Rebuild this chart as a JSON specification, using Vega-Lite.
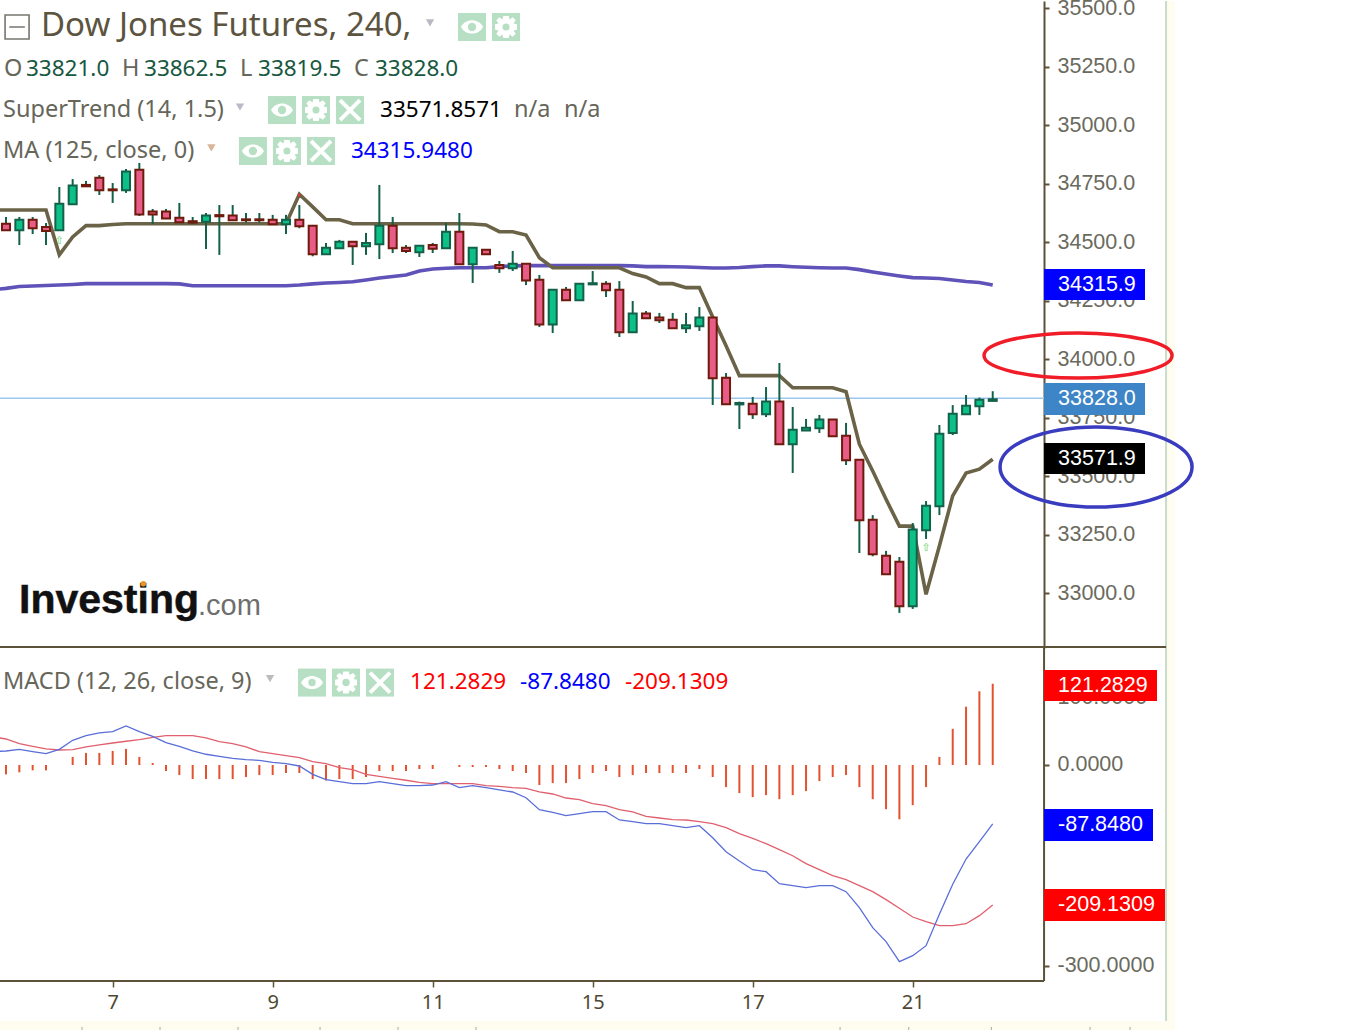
{
  "$schema": "https://vega.github.io/schema/vega-lite/v6.json",
  "padding": {"left": -1, "top": -3, "right": 0, "bottom": 0},
  "background": "white",
  "bounds": "flush",
  "spacing": 0,
  "datasets": {
    "bars": [
      {"bar":-1,"st":34637,"ma":34296,"macd":20,"signal":42},
      {"bar":0,"o":34578,"h":34607,"l":34547,"c":34550,"dir":"down","st":34637,"ma":34302,"macd":20.9,"signal":38.8,"hist":-14},
      {"bar":1,"o":34550,"h":34607,"l":34487,"c":34595,"dir":"up","st":34637,"ma":34310,"macd":23.4,"signal":31.8,"hist":-11},
      {"bar":2,"o":34595,"h":34607,"l":34534,"c":34559,"dir":"down","st":34637,"ma":34312,"macd":20,"signal":27.9,"hist":-8},
      {"bar":3,"o":34564,"h":34581,"l":34487,"c":34547,"dir":"down","st":34637,"ma":34314,"macd":16.9,"signal":23.9,"hist":-8},
      {"bar":4,"o":34550,"h":34735,"l":34550,"c":34664,"dir":"up","st":34445,"ma":34316,"macd":23.4,"signal":22.4,"hist":0},
      {"bar":5,"o":34661,"h":34769,"l":34661,"c":34741,"dir":"up","st":34521.5,"ma":34318.5,"macd":36.9,"signal":22.8,"hist":12},
      {"bar":6,"o":34744,"h":34761,"l":34738,"c":34738,"dir":"down","st":34570,"ma":34322,"macd":43.7,"signal":26.9,"hist":18},
      {"bar":7,"o":34775,"h":34786,"l":34701,"c":34721,"dir":"down","st":34570,"ma":34322,"macd":47.8,"signal":29.9,"hist":18},
      {"bar":8,"o":34725,"h":34752,"l":34667,"c":34721,"dir":"down","st":34575,"ma":34322,"macd":49.7,"signal":32.8,"hist":21},
      {"bar":9,"o":34721,"h":34812,"l":34710,"c":34801,"dir":"up","st":34578,"ma":34322,"macd":58.2,"signal":35.4,"hist":24},
      {"bar":10,"o":34809,"h":34838,"l":34611,"c":34618,"dir":"down","st":34578,"ma":34322,"macd":49.7,"signal":37.8,"hist":12},
      {"bar":11,"o":34630,"h":34641,"l":34577,"c":34618,"dir":"down","st":34578,"ma":34322,"macd":42.8,"signal":41.3,"hist":3},
      {"bar":12,"o":34630,"h":34641,"l":34600,"c":34601,"dir":"down","st":34578,"ma":34322,"macd":33.3,"signal":43.7,"hist":-9},
      {"bar":13,"o":34604,"h":34667,"l":34583,"c":34584,"dir":"down","st":34578,"ma":34321,"macd":27.9,"signal":43.7,"hist":-15},
      {"bar":14,"o":34589,"h":34607,"l":34578,"c":34583,"dir":"down","st":34578,"ma":34313,"macd":20.9,"signal":43.7,"hist":-21},
      {"bar":15,"o":34587,"h":34624,"l":34470,"c":34613,"dir":"up","st":34578,"ma":34313,"macd":16,"signal":40.3,"hist":-21},
      {"bar":16,"o":34615,"h":34658,"l":34445,"c":34610,"dir":"down","st":34578,"ma":34313,"macd":13,"signal":34.8,"hist":-21},
      {"bar":17,"o":34613,"h":34658,"l":34593,"c":34593,"dir":"down","st":34578,"ma":34313,"macd":10,"signal":31.8,"hist":-21},
      {"bar":18,"o":34597,"h":34624,"l":34583,"c":34593,"dir":"down","st":34578,"ma":34313,"macd":7.9,"signal":26.9,"hist":-18},
      {"bar":19,"o":34597,"h":34624,"l":34583,"c":34593,"dir":"down","st":34578,"ma":34313,"macd":7,"signal":19.9,"hist":-15},
      {"bar":20,"o":34595,"h":34616,"l":34573,"c":34576,"dir":"down","st":34578,"ma":34313,"macd":4,"signal":16.9,"hist":-15},
      {"bar":21,"o":34576,"h":34616,"l":34534,"c":34595,"dir":"up","st":34578,"ma":34313,"macd":1.9,"signal":13.9,"hist":-12},
      {"bar":22,"o":34595,"h":34658,"l":34559,"c":34567,"dir":"down","st":34704,"ma":34316,"macd":-1.5,"signal":10.9,"hist":-12},
      {"bar":23,"o":34570,"h":34573,"l":34439,"c":34448,"dir":"down","st":34650,"ma":34321,"macd":-13.9,"signal":4.9,"hist":-21},
      {"bar":24,"o":34448,"h":34496,"l":34448,"c":34476,"dir":"up","st":34595,"ma":34325,"macd":-21.9,"signal":1.9,"hist":-23},
      {"bar":25,"o":34473,"h":34509,"l":34473,"c":34501,"dir":"up","st":34595,"ma":34327,"macd":-24.9,"signal":-4,"hist":-21},
      {"bar":26,"o":34501,"h":34501,"l":34402,"c":34482,"dir":"down","st":34578,"ma":34330,"macd":-27.9,"signal":-7,"hist":-21},
      {"bar":27,"o":34482,"h":34539,"l":34445,"c":34496,"dir":"up","st":34578,"ma":34338,"macd":-27.9,"signal":-13.9,"hist":-18},
      {"bar":28,"o":34490,"h":34744,"l":34427,"c":34570,"dir":"up","st":34578,"ma":34346,"macd":-24.9,"signal":-16.9,"hist":-9},
      {"bar":29,"o":34570,"h":34607,"l":34453,"c":34473,"dir":"down","st":34578,"ma":34353,"macd":-27.9,"signal":-19.9,"hist":-9},
      {"bar":30,"o":34476,"h":34487,"l":34453,"c":34462,"dir":"down","st":34578,"ma":34359,"macd":-30.9,"signal":-22.8,"hist":-9},
      {"bar":31,"o":34456,"h":34487,"l":34436,"c":34484,"dir":"up","st":34578,"ma":34376,"macd":-30.9,"signal":-25.8,"hist":-6},
      {"bar":32,"o":34487,"h":34496,"l":34453,"c":34471,"dir":"down","st":34578,"ma":34385,"macd":-29.9,"signal":-27.9,"hist":-6},
      {"bar":33,"o":34473,"h":34581,"l":34473,"c":34544,"dir":"up","st":34578,"ma":34388,"macd":-24.9,"signal":-27.9,"hist":0},
      {"bar":34,"o":34544,"h":34624,"l":34402,"c":34405,"dir":"down","st":34578,"ma":34390,"macd":-33.9,"signal":-27.9,"hist":-3},
      {"bar":35,"o":34405,"h":34476,"l":34325,"c":34476,"dir":"up","st":34577,"ma":34390,"macd":-30.9,"signal":-27.9,"hist":-3},
      {"bar":36,"o":34467,"h":34467,"l":34448,"c":34448,"dir":"down","st":34573,"ma":34390,"macd":-33.9,"signal":-30.9,"hist":-3},
      {"bar":37,"o":34402,"h":34419,"l":34368,"c":34388,"dir":"down","st":34544,"ma":34395,"macd":-37.3,"signal":-31.8,"hist":-6},
      {"bar":38,"o":34388,"h":34462,"l":34376,"c":34407,"dir":"up","st":34544,"ma":34398,"macd":-40.3,"signal":-33.9,"hist":-9},
      {"bar":39,"o":34407,"h":34407,"l":34316,"c":34336,"dir":"down","st":34530,"ma":34399,"macd":-48.8,"signal":-34.8,"hist":-12},
      {"bar":40,"o":34339,"h":34359,"l":34137,"c":34148,"dir":"down","st":34433,"ma":34399,"macd":-66.7,"signal":-40.3,"hist":-30},
      {"bar":41,"o":34148,"h":34296,"l":34111,"c":34296,"dir":"up","st":34390,"ma":34399,"macd":-70.6,"signal":-43.3,"hist":-27},
      {"bar":42,"o":34296,"h":34308,"l":34251,"c":34251,"dir":"down","st":34390,"ma":34399,"macd":-75.7,"signal":-49.3,"hist":-27},
      {"bar":43,"o":34251,"h":34322,"l":34251,"c":34322,"dir":"up","st":34390,"ma":34399,"macd":-72.7,"signal":-51.8,"hist":-21},
      {"bar":44,"o":34319,"h":34376,"l":34319,"c":34324,"dir":"up","st":34390,"ma":34399,"macd":-69.7,"signal":-57.8,"hist":-12},
      {"bar":45,"o":34322,"h":34333,"l":34265,"c":34294,"dir":"down","st":34390,"ma":34399,"macd":-69.7,"signal":-60.7,"hist":-9},
      {"bar":46,"o":34296,"h":34333,"l":34094,"c":34114,"dir":"down","st":34390,"ma":34399,"macd":-82.1,"signal":-66.7,"hist":-18},
      {"bar":47,"o":34114,"h":34248,"l":34114,"c":34194,"dir":"up","st":34365,"ma":34398,"macd":-84.6,"signal":-70.1,"hist":-15},
      {"bar":48,"o":34194,"h":34205,"l":34174,"c":34174,"dir":"down","st":34350.5,"ma":34395,"macd":-87.6,"signal":-76.6,"hist":-12},
      {"bar":49,"o":34177,"h":34197,"l":34154,"c":34165.5,"dir":"down","st":34322,"ma":34395,"macd":-87.6,"signal":-79.1,"hist":-12},
      {"bar":50,"o":34168,"h":34197,"l":34131,"c":34131,"dir":"down","st":34322,"ma":34394.5,"macd":-90.6,"signal":-81.6,"hist":-12},
      {"bar":51,"o":34131,"h":34197,"l":34111,"c":34144,"dir":"up","st":34305,"ma":34393,"macd":-93.6,"signal":-82.1,"hist":-12},
      {"bar":52,"o":34140,"h":34222,"l":34120,"c":34177,"dir":"up","st":34305,"ma":34391,"macd":-90.6,"signal":-84.6,"hist":-6},
      {"bar":53,"o":34177,"h":34177,"l":33803.5,"c":33918,"dir":"down","st":34180,"ma":34389,"macd":-108.5,"signal":-87.6,"hist":-18},
      {"bar":54,"o":33920,"h":33940,"l":33806,"c":33806.5,"dir":"down","st":34057,"ma":34389,"macd":-129.4,"signal":-93.6,"hist":-33},
      {"bar":55,"o":33806,"h":33818,"l":33701,"c":33812,"dir":"up","st":33929,"ma":34391,"macd":-143.3,"signal":-102.5,"hist":-42},
      {"bar":56,"o":33809,"h":33838,"l":33744,"c":33764,"dir":"down","st":33929,"ma":34395,"macd":-156.3,"signal":-109.4,"hist":-48},
      {"bar":57,"o":33764,"h":33880,"l":33752,"c":33818,"dir":"up","st":33929,"ma":34398,"macd":-159.2,"signal":-117.5,"hist":-45},
      {"bar":58,"o":33818,"h":33983,"l":33636,"c":33636,"dir":"down","st":33929,"ma":34398,"macd":-177.2,"signal":-126.4,"hist":-51},
      {"bar":59,"o":33636,"h":33795,"l":33513,"c":33698,"dir":"up","st":33877,"ma":34394.5,"macd":-180.1,"signal":-135.4,"hist":-45},
      {"bar":60,"o":33695,"h":33744,"l":33695,"c":33706,"dir":"up","st":33877,"ma":34392,"macd":-183.1,"signal":-147.3,"hist":-39},
      {"bar":61,"o":33704,"h":33761,"l":33684,"c":33741,"dir":"up","st":33877,"ma":34390,"macd":-180.1,"signal":-156.3,"hist":-24},
      {"bar":62,"o":33741,"h":33741,"l":33670,"c":33670,"dir":"down","st":33877,"ma":34389,"macd":-180.1,"signal":-165.2,"hist":-18},
      {"bar":63,"o":33672,"h":33727,"l":33547,"c":33567,"dir":"down","st":33860,"ma":34389,"macd":-189.1,"signal":-171.2,"hist":-15},
      {"bar":64,"o":33570,"h":33570,"l":33171,"c":33311,"dir":"down","st":33636,"ma":34382,"macd":-213,"signal":-180.1,"hist":-33},
      {"bar":65,"o":33313,"h":33333,"l":33157,"c":33165.5,"dir":"down","st":33521.5,"ma":34372,"macd":-242.8,"signal":-189.1,"hist":-51},
      {"bar":66,"o":33159.5,"h":33180,"l":33080,"c":33080,"dir":"down","st":33400.5,"ma":34363,"macd":-263.7,"signal":-201,"hist":-66},
      {"bar":67,"o":33134,"h":33154,"l":32915,"c":32943,"dir":"down","st":33286,"ma":34355,"macd":-293.6,"signal":-213.9,"hist":-81},
      {"bar":68,"o":32943,"h":33299,"l":32932,"c":33271,"dir":"up","st":33286,"ma":34348,"macd":-284.6,"signal":-226.9,"hist":-60},
      {"bar":69,"o":33268,"h":33393,"l":33231,"c":33373,"dir":"up","st":32994.5,"ma":34346,"macd":-269.7,"signal":-233.9,"hist":-33},
      {"bar":70,"o":33371,"h":33718,"l":33333,"c":33681,"dir":"up","st":33201,"ma":34344,"macd":-222.8,"signal":-239.8,"hist":12},
      {"bar":71,"o":33684,"h":33803,"l":33675,"c":33766,"dir":"up","st":33415,"ma":34338,"macd":-178.1,"signal":-239.8,"hist":54},
      {"bar":72,"o":33764,"h":33846,"l":33764,"c":33800.5,"dir":"up","st":33513,"ma":34331,"macd":-140.3,"signal":-236.9,"hist":87},
      {"bar":73,"o":33798,"h":33835,"l":33761,"c":33826,"dir":"up","st":33529,"ma":34327,"macd":-114.5,"signal":-224.9,"hist":110},
      {"bar":74,"o":33821,"h":33862.5,"l":33819.5,"c":33828,"dir":"up","st":33571.9,"ma":34315.9,"macd":-87.848,"signal":-209.1309,"hist":121.2829}
    ],
    "icon_squares_top": [
      {"bar":34.95,"price":35419},{"bar":37.5,"price":35419},
      {"bar":20.7,"price":35064},{"bar":23.25,"price":35064},{"bar":25.8,"price":35064},
      {"bar":18.52,"price":34889},{"bar":21.07,"price":34889},{"bar":23.62,"price":34889}
    ],
    "eyes_top": [{"bar":34.95,"price":35419},{"bar":20.7,"price":35064},{"bar":18.52,"price":34889}],
    "gears_top": [{"bar":37.5,"price":35419},{"bar":23.25,"price":35064},{"bar":21.07,"price":34889}],
    "closes_top": [{"bar":25.8,"price":35064},{"bar":23.62,"price":34889}]
  },
  "vconcat": [
    {
      "width": 1175,
      "height": 647,
      "encoding": {
        "x": {"field": "bar", "type": "quantitative", "axis": null, "scale": {"domain": [-0.45, 87.67], "nice": false, "zero": false, "padding": 0}},
        "y": {
          "field": "price",
          "type": "quantitative",
          "scale": {"domain": [32765, 35530], "nice": false, "zero": false},
          "axis": {
            "orient": "right",
            "offset": -131,
            "title": null,
            "grid": false,
            "values": [33000, 33250, 33500, 33750, 34000, 34250, 34500, 34750, 35000, 35250, 35500],
            "format": ".1f",
            "labelFont": "Liberation Sans",
            "labelFontSize": 21.5,
            "labelColor": "#6a6a5e",
            "labelPadding": 8,
            "labelOverlap": false,
            "labelBound": false,
            "tickColor": "#5c5238",
            "tickSize": 5,
            "tickWidth": 2,
            "domainColor": "#5c5238",
            "domainWidth": 2
          }
        }
      },
      "layer": [
        {
          "data": {"values": [{"bar": 87, "bar2": 87.67, "price": 32765, "price2": 35530}]},
          "mark": {"type": "rect", "fill": "#fffdf0", "stroke": null},
          "encoding": {"x2": {"field": "bar2"}, "y2": {"field": "price2"}}
        },
        {
          "data": {"values": [{"bar": 87, "price": 32765, "price2": 35530}]},
          "mark": {"type": "rule", "stroke": "#c8dccb", "strokeWidth": 2},
          "encoding": {"y2": {"field": "price2"}}
        },
        {
          "data": {"values": [{"bar": -0.45, "bar2": 77.85, "price": 33832}]},
          "mark": {"type": "rule", "stroke": "#9cc8f0", "strokeWidth": 1.5},
          "encoding": {"x2": {"field": "bar2"}}
        },
        {
          "data": {"name": "bars"},
          "mark": {"type": "line", "stroke": "#5f52b8", "strokeWidth": 3.6, "clip": true},
          "encoding": {"y": {"field": "ma", "type": "quantitative"}}
        },
        {
          "data": {"name": "bars"},
          "mark": {"type": "line", "stroke": "#6b6347", "strokeWidth": 3.6, "clip": true},
          "encoding": {"y": {"field": "st", "type": "quantitative"}}
        },
        {
          "data": {"name": "bars"},
          "mark": {"type": "rule", "stroke": "#14614a", "strokeWidth": 2},
          "encoding": {"y": {"field": "l", "type": "quantitative"}, "y2": {"field": "h"}}
        },
        {
          "data": {"name": "bars"},
          "transform": [{"filter": "datum.bar >= 0"}],
          "mark": {"type": "bar", "width": 8, "strokeWidth": 2},
          "encoding": {
            "y": {"field": "o", "type": "quantitative"},
            "y2": {"field": "c"},
            "fill": {"field": "dir", "type": "nominal", "legend": null, "scale": {"domain": ["down", "up"], "range": ["#e85c88", "#0cc088"]}},
            "stroke": {"field": "dir", "type": "nominal", "legend": null, "scale": {"domain": ["down", "up"], "range": ["#6e1a0c", "#14614a"]}}
          }
        },
        {
          "data": {"values": [{"bar": 4, "price": 34504}, {"bar": 69, "price": 33192}]},
          "mark": {"type": "text", "text": "⇧", "font": "DejaVu Sans", "fontSize": 11, "fontWeight": "bold", "color": "#90e090"}
        },
        {
          "data": {"values": [{"bar": 22, "price": 34697}]},
          "mark": {"type": "point", "shape": "triangle-down", "size": 14, "filled": true, "color": "#e83030", "opacity": 1}
        },
        {
          "data": {"values": [{"bar": -0.45, "bar2": 87, "price": 32769.3}]},
          "mark": {"type": "rule", "stroke": "#5c5238", "strokeWidth": 2},
          "encoding": {"x2": {"field": "bar2"}}
        },
        {
          "data": {"values": [
            {"bar": 77.85, "bar2": 85.42, "price": 34252, "price2": 34384.7, "tag": "ma"},
            {"bar": 77.85, "bar2": 85.42, "price": 33760.8, "price2": 33897.5, "tag": "last"},
            {"bar": 77.85, "bar2": 85.42, "price": 33508.6, "price2": 33641, "tag": "st"}
          ]},
          "mark": {"type": "rect"},
          "encoding": {
            "x2": {"field": "bar2"},
            "y2": {"field": "price2"},
            "color": {"field": "tag", "type": "nominal", "legend": null, "scale": {"domain": ["ma", "last", "st", "hist", "macd"], "range": ["#0000ff", "#3d85c6", "#000000", "#ff0000", "#0000ff"]}}
          }
        },
        {
          "data": {"values": [
            {"bar": 78.9, "price": 34316, "label": "34315.9"},
            {"bar": 78.9, "price": 33828, "label": "33828.0"},
            {"bar": 78.9, "price": 33572, "label": "33571.9"}
          ]},
          "mark": {"type": "text", "align": "left", "baseline": "middle", "font": "Liberation Sans", "fontSize": 21.5, "color": "white"},
          "encoding": {"text": {"field": "label"}}
        },
        {
          "data": {"values": [{"bar": 80.4, "price": 34015}]},
          "mark": {"type": "point", "filled": false, "opacity": 1, "stroke": "#f01c28", "strokeWidth": 3.5, "size": 35344,
            "shape": "M-1,0C-1,-0.1326,-0.552,-0.24,0,-0.24C0.552,-0.24,1,-0.1326,1,0C1,0.1326,0.552,0.24,0,0.24C-0.552,0.24,-1,0.1326,-1,0Z"}
        },
        {
          "data": {"values": [{"bar": 81.75, "price": 33538.6}]},
          "mark": {"type": "point", "filled": false, "opacity": 1, "stroke": "#3a3cc0", "strokeWidth": 3.5, "size": 36864,
            "shape": "M-1,0C-1,-0.2303,-0.552,-0.417,0,-0.417C0.552,-0.417,1,-0.2303,1,0C1,0.2303,0.552,0.417,0,0.417C-0.552,0.417,-1,0.2303,-1,0Z"}
        },
        {
          "data": {"values": [{"bar": 0.83, "price": 35419}]},
          "mark": {"type": "point", "filled": false, "opacity": 1, "stroke": "#777770", "strokeWidth": 1.6, "size": 576, "shape": "M-1,-1H1V1H-1ZM-0.65,0H0.65"}
        },
        {
          "data": {"values": [{"bar": 2.625, "price": 35423, "label": "Dow Jones Futures, 240,"}]},
          "mark": {"type": "text", "align": "left", "baseline": "middle", "font": "Noto Sans", "fontSize": 33, "color": "#5c5440"},
          "encoding": {"text": {"field": "label"}}
        },
        {
          "data": {"values": [
            {"bar": -0.15, "price": 35239, "label": "O"},
            {"bar": 8.7, "price": 35239, "label": "H"},
            {"bar": 17.55, "price": 35239, "label": "L"},
            {"bar": 26.1, "price": 35239, "label": "C"},
            {"bar": -0.225, "price": 35064, "label": "SuperTrend (14, 1.5)"},
            {"bar": 38.1, "price": 35064, "label": "n/a"},
            {"bar": 41.85, "price": 35064, "label": "n/a"},
            {"bar": -0.225, "price": 34889, "label": "MA (125, close, 0)"}
          ]},
          "mark": {"type": "text", "align": "left", "baseline": "middle", "font": "Noto Sans", "fontSize": 23.5, "color": "#66665a"},
          "encoding": {"text": {"field": "label"}}
        },
        {
          "data": {"values": [
            {"bar": 1.5, "price": 35239, "label": "33821.0"},
            {"bar": 10.35, "price": 35239, "label": "33862.5"},
            {"bar": 18.9, "price": 35239, "label": "33819.5"},
            {"bar": 27.67, "price": 35239, "label": "33828.0"}
          ]},
          "mark": {"type": "text", "align": "left", "baseline": "middle", "font": "Noto Sans", "fontSize": 22.5, "color": "#17583f"},
          "encoding": {"text": {"field": "label"}}
        },
        {
          "data": {"values": [{"bar": 28.05, "price": 35064, "label": "33571.8571"}]},
          "mark": {"type": "text", "align": "left", "baseline": "middle", "font": "Noto Sans", "fontSize": 22.5, "color": "#000000"},
          "encoding": {"text": {"field": "label"}}
        },
        {
          "data": {"values": [{"bar": 25.87, "price": 34889, "label": "34315.9480"}]},
          "mark": {"type": "text", "align": "left", "baseline": "middle", "font": "Noto Sans", "fontSize": 22.5, "color": "#0000ff"},
          "encoding": {"text": {"field": "label"}}
        },
        {
          "data": {"values": [{"bar": 31.8, "price": 35436}, {"bar": 17.55, "price": 35077}]},
          "mark": {"type": "point", "shape": "triangle-down", "size": 70, "filled": true, "color": "#bcb8c4", "opacity": 1}
        },
        {
          "data": {"values": [{"bar": 15.4, "price": 34902}]},
          "mark": {"type": "point", "shape": "triangle-down", "size": 70, "filled": true, "color": "#d8b498", "opacity": 1}
        },
        {
          "data": {"name": "icon_squares_top"},
          "mark": {"type": "point", "shape": "square", "size": 784, "filled": true, "color": "#b6dfc3", "opacity": 1}
        },
        {
          "data": {"name": "eyes_top"},
          "mark": {"type": "point", "filled": true, "color": "white", "opacity": 1, "size": 484,
            "shape": "M-1,0C-0.6,-0.8,0.6,-0.8,1,0C0.6,0.8,-0.6,0.8,-1,0Z"}
        },
        {
          "data": {"name": "eyes_top"},
          "mark": {"type": "point", "shape": "circle", "size": 70, "filled": true, "color": "#b6dfc3", "opacity": 1}
        },
        {
          "data": {"name": "gears_top"},
          "mark": {"type": "point", "filled": true, "color": "white", "opacity": 1, "size": 484,
            "shape": "M-0.25,-1H0.25L0.32,-0.68L0.62,-0.88L0.88,-0.62L0.68,-0.32L1,-0.25V0.25L0.68,0.32L0.88,0.62L0.62,0.88L0.32,0.68L0.25,1H-0.25L-0.32,0.68L-0.62,0.88L-0.88,0.62L-0.68,0.32L-1,0.25V-0.25L-0.68,-0.32L-0.88,-0.62L-0.62,-0.88L-0.32,-0.68Z"}
        },
        {
          "data": {"name": "gears_top"},
          "mark": {"type": "point", "shape": "circle", "size": 50, "filled": true, "color": "#b6dfc3", "opacity": 1}
        },
        {
          "data": {"name": "closes_top"},
          "mark": {"type": "point", "filled": false, "opacity": 1, "stroke": "white", "strokeWidth": 4, "size": 400, "shape": "M-1,-1L1,1M-1,1L1,-1"}
        },
        {
          "data": {"values": [{"bar": 0.975, "price": 32966, "label": "Investing"}]},
          "mark": {"type": "text", "align": "left", "baseline": "middle", "font": "Liberation Sans", "fontWeight": "bold", "fontSize": 41, "color": "#111111", "stroke": "#111111", "strokeWidth": 0.5},
          "encoding": {"text": {"field": "label"}}
        },
        {
          "data": {"values": [{"bar": 14.4, "price": 32945, "label": ".com"}]},
          "mark": {"type": "text", "align": "left", "baseline": "middle", "font": "Liberation Sans", "fontSize": 29, "color": "#6e6e6e"},
          "encoding": {"text": {"field": "label"}}
        },
        {
          "data": {"values": [{"bar": 10.3, "price": 33040}]},
          "mark": {"type": "point", "shape": "circle", "size": 30, "filled": true, "color": "#e8952a", "opacity": 1}
        }
      ]
    },
    {
      "width": 1175,
      "height": 373,
      "encoding": {
        "x": {
          "field": "bar",
          "type": "quantitative",
          "scale": {"domain": [-0.45, 87.67], "nice": false, "zero": false, "padding": 0},
          "axis": {
            "orient": "bottom",
            "offset": -40,
            "title": null,
            "grid": false,
            "domain": false,
            "values": [8, 20, 32, 44, 56, 68],
            "labelExpr": "{'8':'7','20':'9','32':'11','44':'15','56':'17','68':'21'}[datum.value]",
            "labelFont": "Noto Sans",
            "labelFontSize": 20,
            "labelColor": "#4e4833",
            "labelPadding": 5,
            "tickColor": "#5c5238",
            "tickSize": 6,
            "tickWidth": 1.5
          }
        },
        "y": {
          "field": "value",
          "type": "quantitative",
          "scale": {"domain": [-382.1, 174.6], "nice": false, "zero": false},
          "axis": {
            "orient": "right",
            "offset": -131,
            "title": null,
            "grid": false,
            "domain": false,
            "values": [-300, 0, 100],
            "labelExpr": "replace(format(datum.value, '.4f'), '−', '-')",
            "labelFont": "Liberation Sans",
            "labelFontSize": 21.5,
            "labelColor": "#6a6a5e",
            "labelPadding": 8,
            "labelOverlap": false,
            "labelBound": false,
            "tickColor": "#5c5238",
            "tickSize": 5,
            "tickWidth": 2
          }
        }
      },
      "layer": [
        {
          "data": {"values": [{"bar": 87, "bar2": 87.67, "value": -382.1, "value2": 174.6}]},
          "mark": {"type": "rect", "fill": "#fffdf0", "stroke": null},
          "encoding": {"x2": {"field": "bar2"}, "y2": {"field": "value2"}}
        },
        {
          "data": {"values": [{"bar": 87, "value": -382.1, "value2": 174.6}]},
          "mark": {"type": "rule", "stroke": "#c8dccb", "strokeWidth": 2},
          "encoding": {"y2": {"field": "value2"}}
        },
        {
          "data": {"values": [{"bar": 77.85, "value": -322.4, "value2": 174.6}]},
          "mark": {"type": "rule", "stroke": "#5c5238", "strokeWidth": 2},
          "encoding": {"y2": {"field": "value2"}}
        },
        {
          "data": {"values": [{"bar": -0.45, "bar2": 77.85, "value": -322.4}]},
          "mark": {"type": "rule", "stroke": "#5c5238", "strokeWidth": 2},
          "encoding": {"x2": {"field": "bar2"}}
        },
        {
          "data": {"name": "bars"},
          "transform": [{"filter": "datum.bar >= 0"}],
          "mark": {"type": "rule", "stroke": "#e2522f", "strokeWidth": 2},
          "encoding": {"y": {"field": "hist", "type": "quantitative"}, "y2": {"datum": 0}}
        },
        {
          "data": {"name": "bars"},
          "mark": {"type": "line", "stroke": "#e0606e", "strokeWidth": 1.3, "clip": true},
          "encoding": {"y": {"field": "signal", "type": "quantitative"}}
        },
        {
          "data": {"name": "bars"},
          "mark": {"type": "line", "stroke": "#5a6ed8", "strokeWidth": 1.3, "clip": true},
          "encoding": {"y": {"field": "macd", "type": "quantitative"}}
        },
        {
          "data": {"values": [
            {"bar": 77.85, "bar2": 86.32, "value": 95.5, "value2": 141.8, "tag": "hist"},
            {"bar": 77.85, "bar2": 86.02, "value": -113.4, "value2": -65.7, "tag": "macd"},
            {"bar": 77.85, "bar2": 86.92, "value": -232.8, "value2": -185, "tag": "hist"}
          ]},
          "mark": {"type": "rect"},
          "encoding": {
            "x2": {"field": "bar2"},
            "y2": {"field": "value2"},
            "color": {"field": "tag", "type": "nominal", "legend": null, "scale": {"domain": ["ma", "last", "st", "hist", "macd"], "range": ["#0000ff", "#3d85c6", "#000000", "#ff0000", "#0000ff"]}}
          }
        },
        {
          "data": {"values": [
            {"bar": 78.9, "value": 118.6, "label": "121.2829"},
            {"bar": 78.9, "value": -89.6, "label": "-87.8480"},
            {"bar": 78.9, "value": -209, "label": "-209.1309"}
          ]},
          "mark": {"type": "text", "align": "left", "baseline": "middle", "font": "Liberation Sans", "fontSize": 21.5, "color": "white"},
          "encoding": {"text": {"field": "label"}}
        },
        {
          "data": {"values": [{"bar": -0.225, "value": 124, "label": "MACD (12, 26, close, 9)"}]},
          "mark": {"type": "text", "align": "left", "baseline": "middle", "font": "Noto Sans", "fontSize": 23.5, "color": "#66665a"},
          "encoding": {"text": {"field": "label"}}
        },
        {
          "data": {"values": [{"bar": 30.3, "value": 124, "label": "121.2829"}, {"bar": 46.42, "value": 124, "label": "-209.1309"}]},
          "mark": {"type": "text", "align": "left", "baseline": "middle", "font": "Noto Sans", "fontSize": 22.5, "color": "#ff0000"},
          "encoding": {"text": {"field": "label"}}
        },
        {
          "data": {"values": [{"bar": 38.55, "value": 124, "label": "-87.8480"}]},
          "mark": {"type": "text", "align": "left", "baseline": "middle", "font": "Noto Sans", "fontSize": 22.5, "color": "#0000ff"},
          "encoding": {"text": {"field": "label"}}
        },
        {
          "data": {"values": [{"bar": 19.8, "value": 129}]},
          "mark": {"type": "point", "shape": "triangle-down", "size": 70, "filled": true, "color": "#bcbcbc", "opacity": 1}
        },
        {
          "data": {"values": [{"bar": 22.95, "value": 123}, {"bar": 25.5, "value": 123}, {"bar": 28.05, "value": 123}]},
          "mark": {"type": "point", "shape": "square", "size": 784, "filled": true, "color": "#b6dfc3", "opacity": 1}
        },
        {
          "data": {"values": [{"bar": 22.95, "value": 123}]},
          "mark": {"type": "point", "filled": true, "color": "white", "opacity": 1, "size": 484,
            "shape": "M-1,0C-0.6,-0.8,0.6,-0.8,1,0C0.6,0.8,-0.6,0.8,-1,0Z"}
        },
        {
          "data": {"values": [{"bar": 25.5, "value": 123}]},
          "mark": {"type": "point", "filled": true, "color": "white", "opacity": 1, "size": 484,
            "shape": "M-0.25,-1H0.25L0.32,-0.68L0.62,-0.88L0.88,-0.62L0.68,-0.32L1,-0.25V0.25L0.68,0.32L0.88,0.62L0.62,0.88L0.32,0.68L0.25,1H-0.25L-0.32,0.68L-0.62,0.88L-0.88,0.62L-0.68,0.32L-1,0.25V-0.25L-0.68,-0.32L-0.88,-0.62L-0.62,-0.88L-0.32,-0.68Z"}
        },
        {
          "data": {"values": [{"bar": 25.5, "value": 123}, {"bar": 22.95, "value": 123}]},
          "mark": {"type": "point", "shape": "circle", "size": 55, "filled": true, "color": "#b6dfc3", "opacity": 1}
        },
        {
          "data": {"values": [{"bar": 28.05, "value": 123}]},
          "mark": {"type": "point", "filled": false, "opacity": 1, "stroke": "white", "strokeWidth": 4, "size": 400, "shape": "M-1,-1L1,1M-1,1L1,-1"}
        }
      ]
    },
    {
      "width": 1175,
      "height": 10,
      "view": {"fill": "#fffdf0"},
      "data": {"values": [{"bar": 5.7}, {"bar": 11.55}, {"bar": 17.4}, {"bar": 23.55}, {"bar": 29.4}, {"bar": 35.25}, {"bar": 62.55}, {"bar": 67.7}, {"bar": 73.9}, {"bar": 81.3}, {"bar": 84.3}]},
      "mark": {"type": "rule", "stroke": "#a8a8a0", "strokeWidth": 1},
      "encoding": {
        "x": {"field": "bar", "type": "quantitative", "axis": null, "scale": {"domain": [-0.45, 87.67], "nice": false, "zero": false}},
        "y": {"datum": 0, "type": "quantitative", "axis": null, "scale": {"domain": [0, 1], "nice": false, "zero": false}},
        "y2": {"datum": 0.4}
      }
    }
  ],
  "config": {"view": {"stroke": null}}
}
